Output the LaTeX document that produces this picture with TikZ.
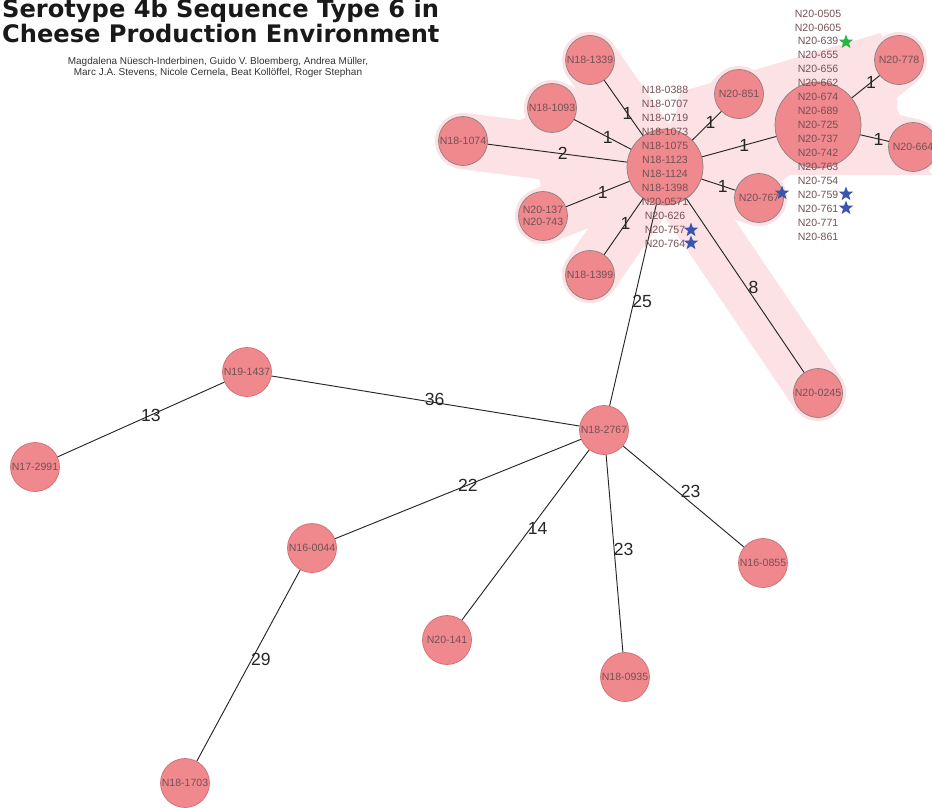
\documentclass[tikz,border=0pt]{standalone}
\usepackage{fontspec}
\setmainfont{Liberation Sans}
\newfontfamily\headfont{DejaVu Sans}
\usetikzlibrary{shapes.geometric}

\definecolor{isofill}{RGB}{239,137,141}
\definecolor{isoedge}{RGB}{205,112,116}
\definecolor{isogrey}{RGB}{140,128,128}
\definecolor{clusterpink}{RGB}{252,226,229}
\definecolor{isotext}{RGB}{115,80,84}
\definecolor{starblue}{RGB}{58,85,176}
\definecolor{stargreen}{RGB}{40,180,70}

\begin{document}
\begin{tikzpicture}[x=0.03cm,y=-0.03cm,
    isolate/.style={circle,fill=isofill,draw=isoedge,line width=0.6pt,inner sep=0pt,
      minimum size=1.47cm,align=center,text=isotext,font=\fontsize{9}{10.8}\selectfont},
    grouped/.style={isolate,draw=isogrey},
    hubnode/.style={grouped,minimum size=#1},
    link/.style={line width=0.8pt,draw=black!85},
    dist/.style={font=\fontsize{15}{15}\selectfont,text=black!85,inner sep=0pt},
    band/.style={line width=48pt,line cap=round,draw=clusterpink},
    snp/.style={star,star points=5,star point ratio=2.4,inner sep=0pt,minimum size=0.45cm,fill=#1},
    namelist/.style={align=center,text=isotext,font=\fontsize{9}{11.9}\selectfont}]
    \useasboundingbox (0,0) rectangle (932,807);

    % title and authors
    \node[anchor=base west,inner sep=0pt,font=\headfont\bfseries\fontsize{20.6}{21}\selectfont,text=black!90] (title1) at (2,17) {Serotype 4b Sequence Type 6 in};
    \node[anchor=base west,inner sep=0pt,font=\headfont\bfseries\fontsize{20.6}{21}\selectfont,text=black!90] (title2) at (2,42) {Cheese Production Environment};
    \node[anchor=base,inner sep=0pt,font=\fontsize{8.5}{9}\selectfont,text=black!80] (authors1) at (218,64) {Magdalena N\"uesch-Inderbinen, Guido V. Bloemberg, Andrea M\"uller,};
    \node[anchor=base,inner sep=0pt,font=\fontsize{8.5}{9}\selectfont,text=black!80] (authors2) at (218,75) {Marc J.A. Stevens, Nicole Cernela, Beat Koll\"offel, Roger Stephan};

    % centres of the isolates
    \coordinate (A) at (665,167);
    \coordinate (B) at (818,125);
    \coordinate (P1339) at (590,60);
    \coordinate (P1093) at (552,108);
    \coordinate (P1074) at (463,141);
    \coordinate (P137) at (543,216);
    \coordinate (P1399) at (590,275);
    \coordinate (P851) at (739,94);
    \coordinate (P778) at (899,60);
    \coordinate (P664) at (913,147);
    \coordinate (P767) at (759,198);
    \coordinate (P0245) at (818,393);
    \coordinate (P2767) at (604,430);
    \coordinate (P1437) at (247,372);
    \coordinate (P2991) at (35,467);
    \coordinate (P0044) at (312,548);
    \coordinate (P1703) at (185,783);
    \coordinate (P141) at (447,640);
    \coordinate (P0935) at (625,677);
    \coordinate (P0855) at (763,563);

    % shaded cluster
    \foreach \leaf in {P1339,P1093,P1074,P137,P1399,P851,P767,P0245,B}
      \draw[band] (A) -- (\leaf);
    \foreach \leaf in {P778,P664}
      \draw[band] (B) -- (\leaf);
    \fill[clusterpink] (A) circle (44);
    \fill[clusterpink] (A) -- (P1093) -- (P1074) -- (540,180) -- (P137) -- cycle;
    \fill[clusterpink] (A) -- (680,92) -- (880,33) -- (P778) -- (897,108) -- (P664)
      -- (932,175) -- (790,175) -- (P767) -- cycle;

    % isolates
    \node[hubnode=2.28cm] (hubA) at (A) {};
    \node[hubnode=2.58cm] (hubB) at (B) {};
    \node[grouped] (n1339) at (P1339) {N18-1339};
    \node[grouped] (n1093) at (P1093) {N18-1093};
    \node[grouped] (n1074) at (P1074) {N18-1074};
    \node[grouped] (n137) at (P137) {N20-137\\N20-743};
    \node[grouped] (n1399) at (P1399) {N18-1399};
    \node[grouped] (n851) at (P851) {N20-851};
    \node[grouped] (n778) at (P778) {N20-778};
    \node[grouped] (n664) at (P664) {N20-664};
    \node[grouped] (n767) at (P767) {N20-767};
    \node[grouped] (n0245) at (P0245) {N20-0245};
    \node[isolate] (n2767) at (P2767) {N18-2767};
    \node[isolate] (n1437) at (P1437) {N19-1437};
    \node[isolate] (n2991) at (P2991) {N17-2991};
    \node[isolate] (n0044) at (P0044) {N16-0044};
    \node[isolate] (n1703) at (P1703) {N18-1703};
    \node[isolate] (n141) at (P141) {N20-141};
    \node[isolate] (n0935) at (P0935) {N18-0935};
    \node[isolate] (n0855) at (P0855) {N16-0855};

    % links with allele distances
    \draw[link] (hubA) -- node[dist,pos=.40] {1} (n1339);
    \draw[link] (hubA) -- node[dist,pos=.41] {1} (n1093);
    \draw[link] (hubA) -- node[dist,pos=.46] {2} (n1074);
    \draw[link] (hubA) -- node[dist,pos=.42] {1} (n137);
    \draw[link] (hubA) -- node[dist,pos=.45] {1} (n1399);
    \draw[link] (hubA) -- node[dist,pos=.63] {1} (n851);
    \draw[link] (hubA) -- node[dist,pos=.57] {1} (hubB);
    \draw[link] (hubA) -- node[dist,pos=.63] {1} (n767);
    \draw[link] (hubB) -- node[dist,pos=.69] {1} (n778);
    \draw[link] (hubB) -- node[dist,pos=.64] {1} (n664);
    \draw[link] (hubA) -- node[dist,pos=.48,xshift=7pt] {25} (n2767);
    \draw[link] (hubA) -- node[dist,pos=.51,xshift=6pt] {8} (n0245);
    \draw[link] (n1437) -- node[dist,pos=.53,yshift=3pt] {36} (n2767);
    \draw[link] (n2991) -- node[dist,pos=.56] {13} (n1437);
    \draw[link] (n2767) -- node[dist,pos=.46] {22} (n0044);
    \draw[link] (n2767) -- node[dist,pos=.46,xshift=6pt] {14} (n141);
    \draw[link] (n2767) -- node[dist,pos=.48,xshift=8pt] {23} (n0935);
    \draw[link] (n2767) -- node[dist,pos=.53,xshift=3pt,yshift=7pt] {23} (n0855);
    \draw[link] (n0044) -- node[dist,pos=.47,xshift=8pt] {29} (n1703);

    % isolates inside the two hubs
    \node[namelist] (listA) at (A) {N18-0388\\N18-0707\\N18-0719\\N18-1073\\N18-1075\\N18-1123\\N18-1124\\N18-1398\\N20-0571\\N20-626\\N20-757\\N20-764};
    \node[namelist] (listB) at (B) {N20-0505\\N20-0605\\N20-639\\N20-655\\N20-656\\N20-662\\N20-674\\N20-689\\N20-725\\N20-737\\N20-742\\N20-763\\N20-754\\N20-759\\N20-761\\N20-771\\N20-861};

    % stars
    \node[snp=stargreen] (s639) at (846,42) {};
    \node[snp=starblue] (s757) at (691,230) {};
    \node[snp=starblue] (s764) at (691,243) {};
    \node[snp=starblue] (s767) at (782,193) {};
    \node[snp=starblue] (s759) at (846,194) {};
    \node[snp=starblue] (s761) at (846,208) {};

\end{tikzpicture}
\end{document}
